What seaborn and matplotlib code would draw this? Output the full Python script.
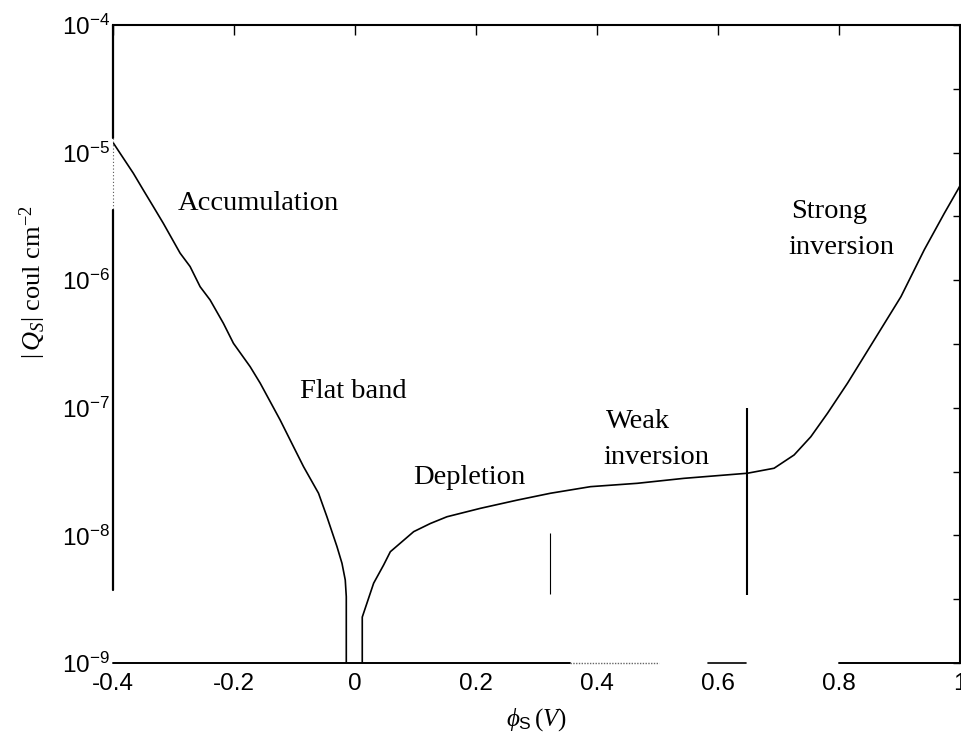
import matplotlib
matplotlib.use("Agg")
import matplotlib.pyplot as plt
import pandas as pd
import seaborn as sns
from matplotlib.ticker import FixedLocator, NullFormatter

# |Q_s| (coul/cm^2) against surface potential phi_s (V), p-type MOS capacitor
# accumulation side, down to the flat-band point
phi_neg = [-0.400, -0.3884, -0.3664, -0.3499, -0.3333, -0.3168, -0.2891, -0.2726,
           -0.2560, -0.2395, -0.2175, -0.2009, -0.1733, -0.1567, -0.1237, -0.1016,
           -0.0851, -0.0603, -0.0464, -0.0298, -0.0215, -0.0161, -0.0144, -0.0144]
q_neg = [1.20e-5, 9.90e-6, 6.89e-6, 5.09e-6, 3.77e-6, 2.79e-6, 1.63e-6, 1.28e-6,
         8.89e-7, 7.00e-7, 4.59e-7, 3.20e-7, 2.10e-7, 1.56e-7, 8.02e-8, 4.95e-8,
         3.46e-8, 2.14e-8, 1.40e-8, 8.17e-9, 6.04e-9, 4.47e-9, 3.31e-9, 1.00e-9]

# depletion, weak inversion and strong inversion side
phi_pos = [0.0120, 0.0120, 0.0308, 0.0473, 0.0584, 0.0970, 0.1246, 0.1520, 0.2073,
           0.2680, 0.3232, 0.3893, 0.4666, 0.5437, 0.6486, 0.6927, 0.7258, 0.7534,
           0.7810, 0.8141, 0.8582, 0.9024, 0.9409, 0.9740, 0.9961, 1.0000]
q_pos = [1.00e-9, 2.29e-9, 4.22e-9, 5.86e-9, 7.45e-9, 1.07e-8, 1.24e-8, 1.40e-8, 1.63e-8,
         1.89e-8, 2.14e-8, 2.41e-8, 2.56e-8, 2.80e-8, 3.07e-8, 3.36e-8, 4.27e-8, 5.93e-8,
         9.06e-8, 1.56e-7, 3.40e-7, 7.43e-7, 1.73e-6, 3.34e-6, 5.09e-6, 5.50e-6]

# vertical markers at phi_B and 2*phi_B
marker_phi = [0.3215, 0.648]
marker_low = [3.5e-9, 3.4e-9]
marker_high = [1.04e-8, 9.9e-8]
marker_width = [0.8, 1.5]

x_ticks = [-0.4, -0.2, 0.0, 0.2, 0.4, 0.6, 0.8, 1.0]
x_tick_labels = ["-0.4", "-0.2", "0", "0.2", "0.4", "0.6", "0.8", "1"]
y_ticks = [1e-9, 1e-8, 1e-7, 1e-6, 1e-5, 1e-4]
y_tick_labels = [r"$\mathsf{10^{-9}}$", r"$\mathsf{10^{-8}}$", r"$\mathsf{10^{-7}}$",
                 r"$\mathsf{10^{-6}}$", r"$\mathsf{10^{-5}}$", r"$\mathsf{10^{-4}}$"]

region_names = ["Accumulation", "Flat band", "Depletion", "Weak\ninversion", "Strong\ninversion"]

sns.set_theme(style="white")
plt.rcParams["font.family"] = ["Liberation Sans", "DejaVu Sans"]
plt.rcParams["mathtext.fontset"] = "custom"
plt.rcParams["mathtext.rm"] = "Liberation Serif"
plt.rcParams["mathtext.it"] = "Liberation Serif:italic"
plt.rcParams["mathtext.sf"] = "Liberation Sans"

fig = plt.figure(figsize=(9.62, 7.34), dpi=100)
fig.patch.set_facecolor("white")
W, H = 962, 734
ax = fig.add_axes([113 / W, 1 - 663 / H, (960 - 113) / W, (663 - 25) / H])
ax.set_facecolor("white")

df = pd.DataFrame({
    "phi": phi_neg + phi_pos,
    "q": q_neg + q_pos,
    "branch": ["neg"] * len(phi_neg) + ["pos"] * len(phi_pos),
})
ax.set_yscale("log")
sns.lineplot(data=df, x="phi", y="q", units="branch", estimator=None, sort=False,
             color="black", lw=1.2, ax=ax, legend=False)

for xv, lo, hi, lw in zip(marker_phi, marker_low, marker_high, marker_width):
    ax.vlines(xv, lo, hi, color="black", lw=lw)

ax.set_xlim(-0.4, 1.0)
ax.set_ylim(1e-9, 1e-4)
ax.set_xlabel("")
ax.set_ylabel("")

ax.set_xticks(x_ticks, x_tick_labels)
ax.set_yticks(y_ticks, y_tick_labels)
ax.yaxis.set_minor_locator(FixedLocator([10 ** (-k - 0.5) for k in range(4, 9)]))
ax.yaxis.set_minor_formatter(NullFormatter())
ax.tick_params(axis="both", which="both", direction="in", top=True, right=True,
               colors="black", width=1.0)
ax.tick_params(axis="x", which="major", length=7, pad=7.5, labelsize=17.5)
ax.tick_params(axis="y", which="major", length=5, pad=2, labelsize=17.5)
ax.tick_params(axis="y", which="minor", left=False, right=True, length=5)

# frame: top and right solid, left and bottom broken as in a worn print
for side in ("top", "right"):
    ax.spines[side].set_color("black")
    ax.spines[side].set_linewidth(1.5)
for side in ("left", "bottom"):
    ax.spines[side].set_visible(False)

yt = ax.get_yaxis_transform()
xt = ax.get_xaxis_transform()
ax.plot([0, 0], [1e-4, 1.3e-5], transform=yt, color="black", lw=1.6, clip_on=False)
ax.plot([0, 0], [1.3e-5, 3.55e-6], transform=yt, color="#555555", lw=0.8,
        ls=(0, (1, 2)), clip_on=False)
ax.plot([0, 0], [3.55e-6, 3.7e-9], transform=yt, color="black", lw=1.6, clip_on=False)
ax.plot([-0.4, 0.356], [0, 0], transform=xt, color="black", lw=1.4, clip_on=False)
ax.plot([0.356, 0.502], [0, 0], transform=xt, color="#666666", lw=1.0,
        ls=(0, (1, 1)), clip_on=False)
ax.plot([0.583, 0.646], [0, 0], transform=xt, color="black", lw=1.2, clip_on=False)
ax.plot([0.8, 1.0], [0, 0], transform=xt, color="black", lw=1.4, clip_on=False)

# region labels (baseline anchors in data coordinates)
label_anchor = [(-0.2924, 3.55e-6), (-0.0906, 1.19e-7), (0.0964, 2.53e-8),
                (0.4142, 6.95e-8), (0.7203, 3.07e-6)]
for name, (xa, ya) in zip(region_names, label_anchor):
    for i, line in enumerate(name.split("\n")):
        ax.annotate(line, xy=(xa, ya), xytext=(-1.5 * i, -26 * i),
                    textcoords="offset points", ha="left", va="baseline",
                    fontsize=20.5, family="Liberation Serif", color="black")

fig.text(33 / W, 1 - 282 / H, r"$\left|\,Q_S\right|$ coul cm$^{-2}$", rotation=90,
         ha="center", va="center", fontsize=19, family="Liberation Serif", color="black")
fig.text(537 / W, 1 - 720 / H, r"$\phi_{\mathsf{S}}\,(V)$",
         ha="center", va="center", fontsize=18, color="black")

fig.savefig("out.png", dpi=100, facecolor="white")
